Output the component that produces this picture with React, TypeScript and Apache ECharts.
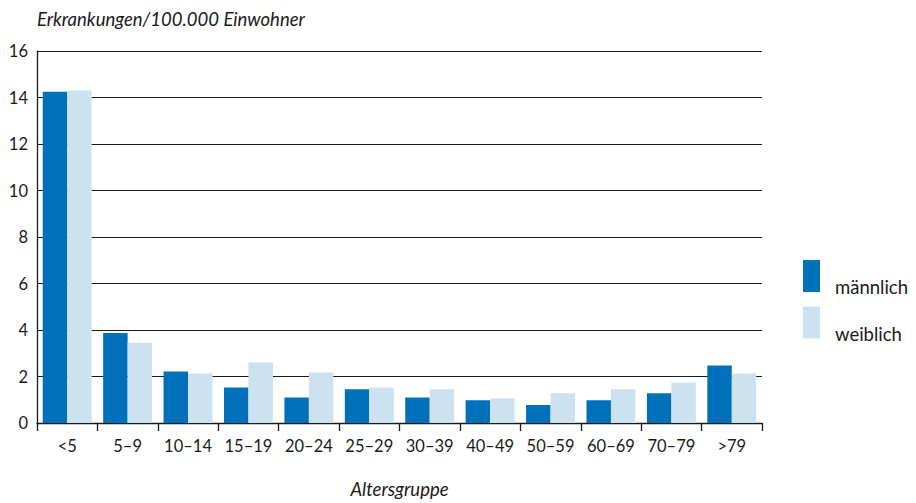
import React, { useEffect, useRef } from "react";
import * as echarts from "echarts";

const categories = ["<5", "5–9", "10–14", "15–19", "20–24", "25–29", "30–39", "40–49", "50–59", "60–69", "70–79", ">79"];
const maennlich = [14.25, 3.87, 2.21, 1.53, 1.1, 1.45, 1.1, 0.98, 0.77, 0.98, 1.28, 2.47];
const weiblich = [14.3, 3.45, 2.13, 2.6, 2.17, 1.53, 1.45, 1.06, 1.28, 1.45, 1.74, 2.13];
const yTicks = { min: 0, max: 16, interval: 2 };

const FONT = "Lato, 'Open Sans', sans-serif";

export default function App() {
  const ref = useRef<HTMLDivElement>(null);
  useEffect(() => {
    if (!ref.current) return;
    const chart = echarts.init(ref.current, undefined, { renderer: "svg" });
    chart.setOption({
      animation: false,
      backgroundColor: "#ffffff",
      textStyle: { fontFamily: FONT, color: "#1a1a1a" },
      grid: { left: 37, right: 154, top: 51, bottom: 76, containLabel: false },
      legend: {
        orient: "vertical",
        left: 803,
        top: 260,
        padding: 0,
        itemWidth: 17,
        itemHeight: 32,
        itemGap: 10,
        icon: "rect",
        data: ["männlich", "weiblich"],
        formatter: "{a|{name}}",
        textStyle: {
          fontFamily: FONT,
          fontSize: 18.5,
          color: "#1a1a1a",
          rich: { a: { fontFamily: FONT, fontSize: 18.5, color: "#1a1a1a", padding: [22, 0, 0, 10] } },
        },
      },
      xAxis: {
        type: "category",
        data: categories,
        name: "Altersgruppe",
        nameLocation: "middle",
        nameGap: 56,
        nameTextStyle: { fontFamily: FONT, fontStyle: "italic", fontSize: 18.5, color: "#1a1a1a" },
        axisLine: { show: true, lineStyle: { color: "#1a1a1a", width: 1.3 } },
        axisTick: { show: true, alignWithLabel: false, length: 8, lineStyle: { color: "#1a1a1a", width: 1.3 } },
        axisLabel: { fontFamily: FONT, fontSize: 16.5, color: "#1a1a1a", margin: 14, interval: 0 },
      },
      yAxis: {
        type: "value",
        min: yTicks.min,
        max: yTicks.max,
        interval: yTicks.interval,
        name: "Erkrankungen/100.000 Einwohner",
        nameLocation: "end",
        nameGap: 23,
        nameTextStyle: { fontFamily: FONT, fontStyle: "italic", fontSize: 18.5, color: "#1a1a1a", align: "left" },
        axisLine: { show: true, lineStyle: { color: "#1a1a1a", width: 1.3 } },
        axisTick: { show: false },
        axisLabel: { fontFamily: FONT, fontSize: 16.5, color: "#1a1a1a", margin: 9 },
        splitLine: { show: true, lineStyle: { color: "#1a1a1a", width: 1.2 } },
      },
      series: [
        {
          name: "männlich",
          type: "bar",
          data: maennlich,
          itemStyle: { color: "#0070ba" },
          barGap: "0%",
          barCategoryGap: "19%",
        },
        {
          name: "weiblich",
          type: "bar",
          data: weiblich,
          itemStyle: { color: "#cce2f1" },
          barGap: "0%",
          barCategoryGap: "19%",
        },
      ],
    });
    return () => chart.dispose();
  }, []);
  return <div ref={ref} style={{ width: 916, height: 503, position: "absolute", left: 0, top: 0 }} />;
}
